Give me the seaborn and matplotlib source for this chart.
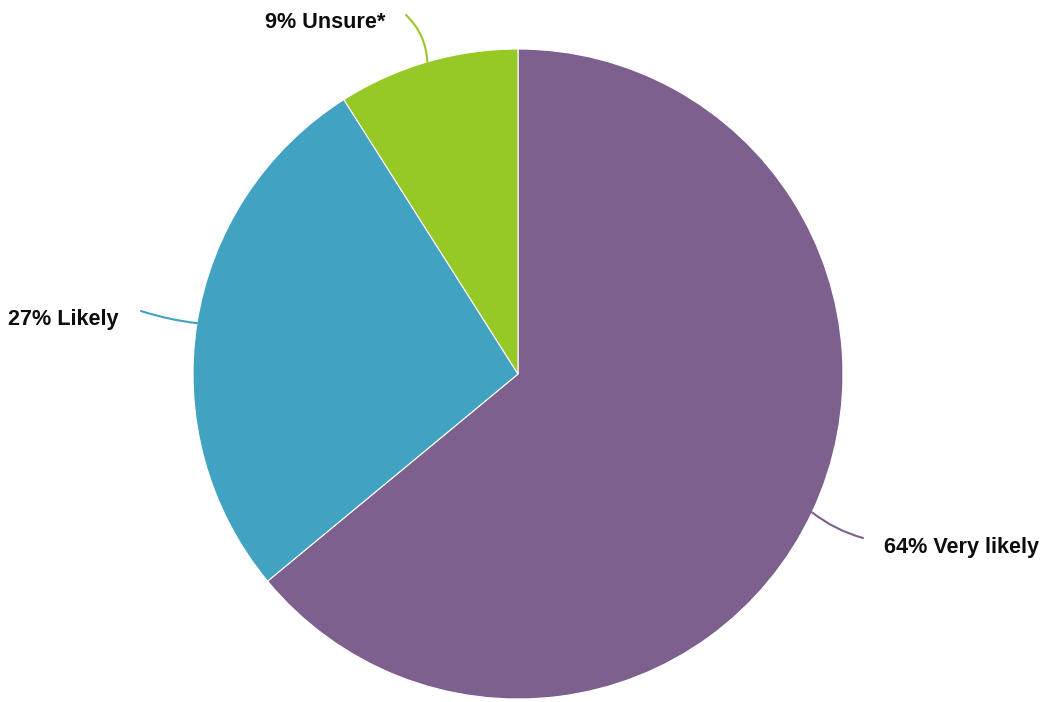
import numpy as np
import matplotlib
matplotlib.use("Agg")
import matplotlib.pyplot as plt
import seaborn as sns

# Survey answers, clockwise from 12 o'clock
labels = ['Very likely', 'Likely', 'Unsure*']
shares = [64, 27, 9]
colors = ['#7E608E', '#41A2C2', '#96C826']

sns.set_theme(style='white')
plt.rcParams['font.family'] = ['Liberation Sans', 'DejaVu Sans']

fig = plt.figure(figsize=(10.48, 7.02), dpi=100)
ax = fig.add_axes([0, 0, 1, 1])

cx, cy, r = 518, 328, 325
wedges, _ = ax.pie(shares, colors=colors, startangle=90, counterclock=False,
                   center=(cx, cy), radius=r, frame=True,
                   wedgeprops=dict(edgecolor='white', linewidth=0.8))
ax.set_xlim(0, 1048)
ax.set_ylim(0, 702)
ax.set_aspect('equal')
ax.axis('off')

# label placement: (line end, text position, alignment, curvature)
layout = [
    ((863, 164), (884, 155), 'left', -0.1),
    ((141, 391), (119, 383), 'right', 0.05),
    ((406, 687), (385, 680), 'right', -0.2),
]

for w, lab, val, col, (end, txt, ha, rad) in zip(wedges, labels, shares, colors, layout):
    mid = np.deg2rad((w.theta1 + w.theta2) / 2)
    anchor = (cx + r * np.cos(mid), cy + r * np.sin(mid))
    ax.annotate('', xy=anchor, xytext=end,
                arrowprops=dict(arrowstyle='-', color=col, lw=1.5,
                                connectionstyle=f'arc3,rad={rad}',
                                shrinkA=0, shrinkB=0))
    ax.text(txt[0], txt[1], f'{val}% {lab}', ha=ha, va='center',
            fontsize=15.6, fontweight='bold', color='#0d0d0d')

fig.savefig('out.png', dpi=100)
